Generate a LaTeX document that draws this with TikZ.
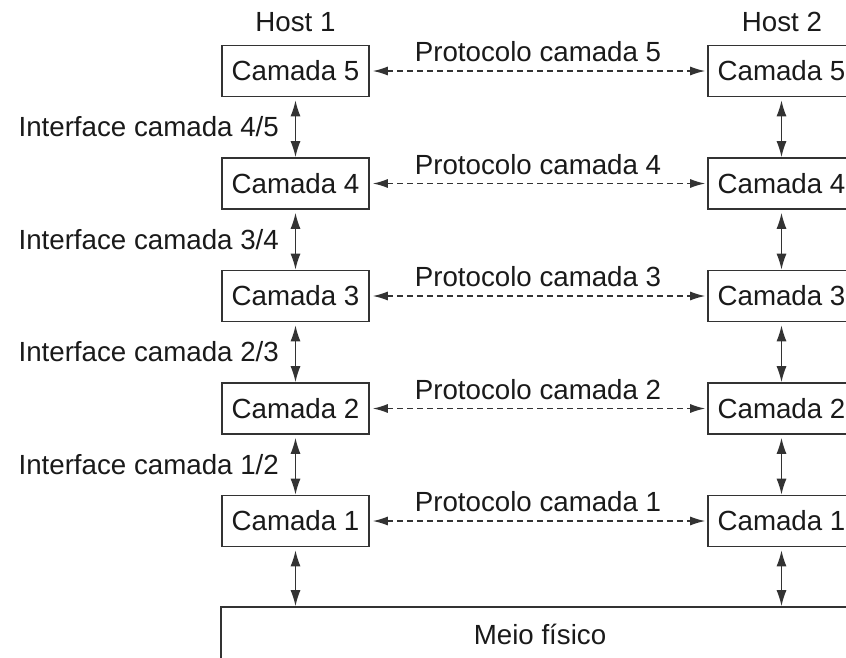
\documentclass[tikz,border=0pt]{standalone}
\usepackage{fontspec}
\setmainfont{Liberation Sans}
\usetikzlibrary{arrows.meta}
\definecolor{linec}{HTML}{333333}
\definecolor{txt}{HTML}{1A1A1A}
\begin{document}
\begin{tikzpicture}[x=1pt,y=-1pt,
  layer/.style={draw=linec, line width=1.6pt, minimum width=147pt, minimum height=51pt, inner sep=0pt, font=\fontsize{27.7}{30}\selectfont, text=txt},
  lbl/.style={font=\fontsize{27.7}{30}\selectfont, text=txt, inner sep=0pt},
  vlink/.style={draw=linec, line width=1.4pt, {Latex[length=16pt,width=10pt]}-{Latex[length=16pt,width=10pt]}, shorten <=3pt},
  plink/.style={draw=linec, line width=1.4pt, dash pattern=on 6pt off 4pt, {Latex[length=15pt,width=9pt]}-{Latex[length=15pt,width=9pt]}, shorten <=3pt, shorten >=2pt}
]
\useasboundingbox (0,0) rectangle (846,657);
\clip (0,0) rectangle (846,657);
\fill[white] (0,0) rectangle (846,657);

\node[lbl] (H1) at (295.5,22) {Host 1};
\node[lbl] (H2) at (782,22) {Host 2};

\foreach \i/\y in {5/71,4/183.5,3/296,2/408.5,1/521}{
  \node[layer] (L\i) at (295.5,\y) {Camada \i};
  \node[layer] (R\i) at (781.5,\y) {Camada \i};
  \node[lbl] (P\i) at (538,\y-19) {Protocolo camada \i};
  \draw[plink] (L\i) -- (R\i);
}

\foreach \a/\b/\y in {5/4/127,4/3/239.5,3/2/352,2/1/464.5}{
  \node[lbl, anchor=east] (I\b) at (279,\y) {Interface camada \b/\a};
  \draw[vlink] (L\a.south) -- (L\b.north);
  \draw[vlink] (R\a.south) -- (R\b.north);
}

\node[draw=linec, line width=1.6pt, minimum width=638pt, minimum height=54pt, inner sep=0pt, font=\fontsize{27.7}{30}\selectfont, text=txt] (M) at (540,634) {Meio físico};
\draw[vlink] (L1.south) -- (L1.south |- M.north);
\draw[vlink] (R1.south) -- (R1.south |- M.north);
\end{tikzpicture}
\end{document}
